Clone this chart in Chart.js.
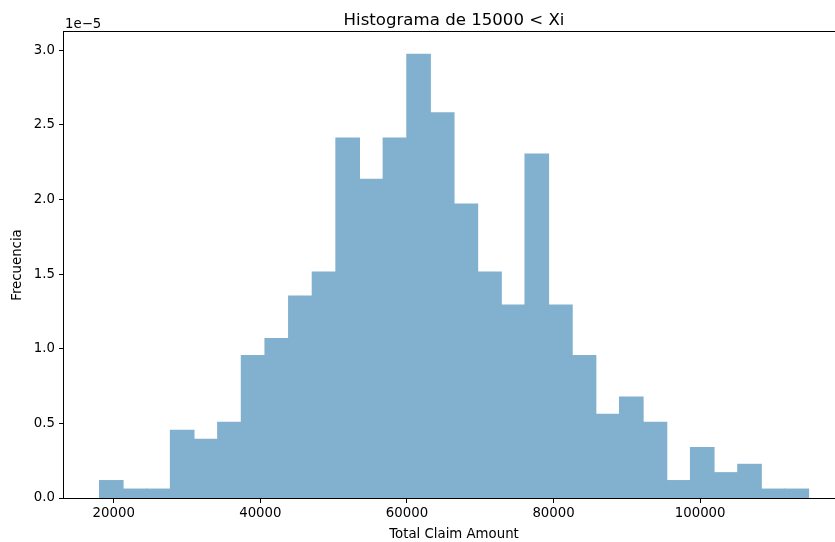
<!DOCTYPE html>
<html>
<head>
<meta charset="utf-8">
<script src="https://cdn.jsdelivr.net/npm/chart.js@4.4.1/dist/chart.umd.min.js"></script>
<style>
  html, body { margin: 0; padding: 0; background: #fff; overflow: hidden; }
  canvas { display: block; }
</style>
</head>
<body>
<canvas id="chart" width="845" height="542" style="width:845px;height:542px"></canvas>
<script>
// histogram bins: first edge and width (Total Claim Amount)
const binStart = 18049;
const binWidth = 3225;
// density per bin, in units of 1e-5
const densities = [
  0.117, 0.060, 0.060, 0.454, 0.394, 0.508, 0.955, 1.069, 1.353, 1.514,
  2.412, 2.137, 2.412, 2.974, 2.582, 1.970, 1.514, 1.294, 2.305, 1.294,
  0.955, 0.561, 0.677, 0.508, 0.117, 0.338, 0.170, 0.226, 0.060, 0.060
];
const xTicks = [20000, 40000, 60000, 80000, 100000];
const yTicks = [0, 0.5, 1.0, 1.5, 2.0, 2.5, 3.0];

const FONT = 'DejaVu Sans';
const TITLE = 'Histograma de 15000 < Xi';

const points = densities.map((d, i) => ({ x: binStart + (i + 0.5) * binWidth, y: d }));

// spines on all four sides, title centred on the axes, "1e-5" offset text
const frame = {
  id: 'frame',
  afterDraw(chart) {
    const { ctx, chartArea: a } = chart;
    ctx.save();
    ctx.strokeStyle = '#000';
    ctx.lineWidth = 1;
    ctx.strokeRect(a.left - 0.5, a.top - 0.5, a.right - a.left + 1, a.bottom - a.top + 1);
    ctx.fillStyle = '#000';
    ctx.font = '16.6px "' + FONT + '"';
    ctx.textAlign = 'center';
    ctx.textBaseline = 'alphabetic';
    ctx.fillText(TITLE, (a.left + a.right) / 2, 25);
    ctx.font = '13.3px "' + FONT + '"';
    ctx.textAlign = 'left';
    ctx.fillText('1e\u22125', a.left + 1, a.top - 4);
    ctx.restore();
  }
};

new Chart(document.getElementById('chart'), {
  type: 'bar',
  data: {
    datasets: [{
      data: points,
      backgroundColor: 'rgb(130, 176, 207)',
      borderWidth: 0,
      inflateAmount: 0.5,
      barPercentage: 1,
      categoryPercentage: 1
    }]
  },
  options: {
    responsive: false,
    animation: false,
    layout: { padding: { left: 0, right: 1, top: 32, bottom: 0 } },
    plugins: {
      legend: { display: false },
      tooltip: { enabled: false },
      title: { display: false }
    },
    scales: {
      x: {
        type: 'linear',
        offset: false,
        min: 13212,
        max: 119626,
        afterFit: s => { s.height = 44; },
        afterBuildTicks: s => { s.ticks = xTicks.map(v => ({ value: v })); },
        border: { display: false },
        grid: { display: true, offset: false, drawOnChartArea: false, drawTicks: true, tickLength: 5, color: '#000', lineWidth: 1 },
        ticks: {
          color: '#000',
          padding: 3,
          maxRotation: 0,
          font: { family: FONT, size: 13.3 },
          callback: v => String(v)
        },
        title: {
          display: true,
          text: 'Total Claim Amount',
          color: '#000',
          font: { family: FONT, size: 13.3, lineHeight: 1.1 },
          padding: { top: 0, bottom: 0 }
        }
      },
      y: {
        min: 0,
        max: 3.123,
        afterFit: s => { s.width = 64; },
        afterBuildTicks: s => { s.ticks = yTicks.map(v => ({ value: v })); },
        border: { display: false },
        grid: { display: true, offset: false, drawOnChartArea: false, drawTicks: true, tickLength: 5, color: '#000', lineWidth: 1 },
        ticks: {
          color: '#000',
          padding: 4,
          font: { family: FONT, size: 13.3 },
          callback: v => v.toFixed(1)
        },
        title: {
          display: true,
          text: 'Frecuencia',
          color: '#000',
          font: { family: FONT, size: 13.3, lineHeight: 1.2 },
          padding: { top: 10, bottom: 0 }
        }
      }
    }
  },
  plugins: [frame]
});
</script>
</body>
</html>
